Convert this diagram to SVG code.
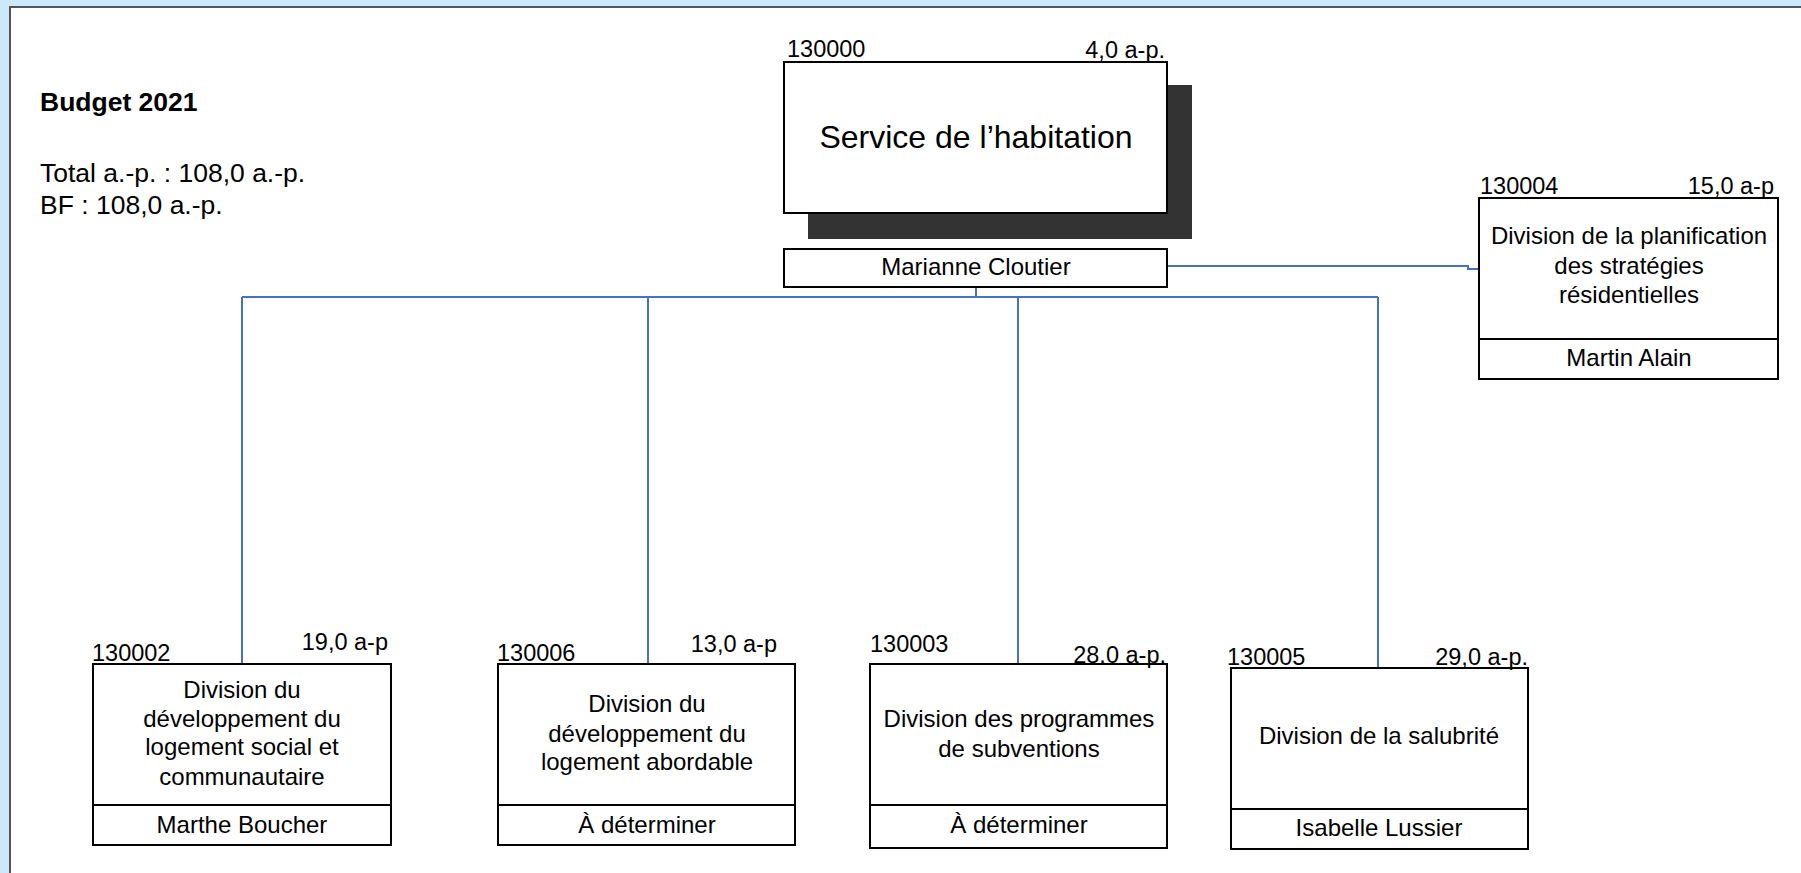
<svg xmlns="http://www.w3.org/2000/svg" width="1801" height="873" viewBox="0 0 1801 873">
<style>
text{font-family:"Liberation Sans",Arial,sans-serif;fill:#000}
.code{font-size:23.5px}
.amt{font-size:23.5px;text-anchor:end}
.t{font-size:24px;text-anchor:middle}
.box{fill:#fff;stroke:#000;stroke-width:2}
.c{fill:none;stroke:#4472c4;stroke-width:2}
</style>
<rect x="0" y="0" width="1801" height="873" fill="#cce9fb"/>
<rect x="10" y="7" width="1800" height="880" fill="#fff" stroke="#555" stroke-width="2"/>
<g id="budget">
<text x="40" y="111" style="font-size:26.5px;font-weight:bold">Budget 2021</text>
<text x="40" y="182" style="font-size:26.5px">Total a.-p. : 108,0 a.-p.</text>
<text x="40" y="214" style="font-size:26.5px">BF : 108,0 a.-p.</text>
</g>
<g id="connectors">
<path class="c" d="M976 287V297"/>
<path class="c" d="M242 297H1378"/>
<path class="c" d="M242 297V664"/>
<path class="c" d="M648 297V664"/>
<path class="c" d="M1018 297V664"/>
<path class="c" d="M1378 297V668"/>
<path class="c" d="M1167 266H1468V269H1479"/>
</g>
<g id="n130000">
<rect x="808" y="85" width="384" height="154" fill="#333"/>
<rect class="box" x="784" y="62" width="383" height="151"/>
<rect class="box" x="784" y="249" width="383" height="38"/>
<text class="code" x="787" y="57">130000</text>
<text class="amt" x="1165" y="58">4,0 a-p.</text>
<text x="976" y="148" style="font-size:32px;text-anchor:middle">Service de l’habitation</text>
<text class="t" x="976" y="275">Marianne Cloutier</text>
</g>
<g id="n130004">
<rect class="box" x="1479" y="198" width="299" height="181"/>
<line x1="1479" y1="339" x2="1778" y2="339" stroke="#000" stroke-width="2"/>
<text class="code" x="1480" y="194">130004</text>
<text class="amt" x="1774" y="194">15,0 a-p</text>
<text class="t" x="1629" y="244">Division de la planification</text>
<text class="t" x="1629" y="274">des stratégies</text>
<text class="t" x="1629" y="303">résidentielles</text>
<text class="t" x="1629" y="366">Martin Alain</text>
</g>
<g id="n130002">
<rect class="box" x="93" y="664" width="298" height="181"/>
<line x1="93" y1="805" x2="391" y2="805" stroke="#000" stroke-width="2"/>
<text class="code" x="92" y="661">130002</text>
<text class="amt" x="388" y="650">19,0 a-p</text>
<text class="t" x="242" y="698">Division du</text>
<text class="t" x="242" y="727">développement du</text>
<text class="t" x="242" y="755">logement social et</text>
<text class="t" x="242" y="785">communautaire</text>
<text class="t" x="242" y="833">Marthe Boucher</text>
</g>
<g id="n130006">
<rect class="box" x="498" y="664" width="297" height="181"/>
<line x1="498" y1="805" x2="795" y2="805" stroke="#000" stroke-width="2"/>
<text class="code" x="497" y="661">130006</text>
<text class="amt" x="777" y="652">13,0 a-p</text>
<text class="t" x="647" y="712">Division du</text>
<text class="t" x="647" y="742">développement du</text>
<text class="t" x="647" y="770">logement abordable</text>
<text class="t" x="647" y="833">À déterminer</text>
</g>
<g id="n130003">
<rect class="box" x="870" y="664" width="297" height="184"/>
<line x1="870" y1="805" x2="1167" y2="805" stroke="#000" stroke-width="2"/>
<text class="code" x="870" y="652">130003</text>
<text class="amt" x="1166" y="663">28.0 a-p.</text>
<text class="t" x="1019" y="727">Division des programmes</text>
<text class="t" x="1019" y="757">de subventions</text>
<text class="t" x="1019" y="833">À déterminer</text>
</g>
<g id="n130005">
<rect class="box" x="1231" y="668" width="297" height="181"/>
<line x1="1231" y1="809" x2="1528" y2="809" stroke="#000" stroke-width="2"/>
<text class="code" x="1227" y="665">130005</text>
<text class="amt" x="1528" y="665">29,0 a-p.</text>
<text class="t" x="1379" y="744">Division de la salubrité</text>
<text class="t" x="1379" y="836">Isabelle Lussier</text>
</g>
</svg>
